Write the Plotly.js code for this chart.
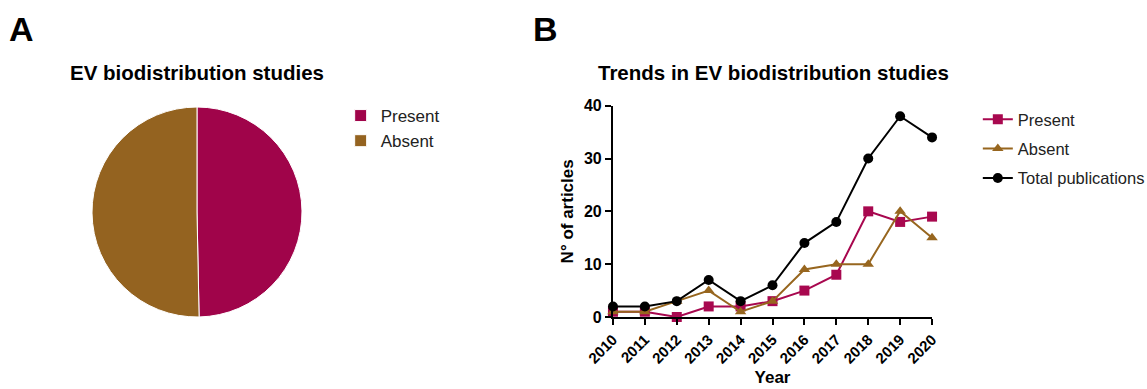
<!DOCTYPE html>
<html><head><meta charset="utf-8">
<script src="https://cdn.plot.ly/plotly-3.0.1.min.js"></script>
<style>html,body{margin:0;padding:0;background:#fff}#c{width:1147px;height:389px}</style>
</head><body><div id="c"></div>
<script>
const pieLabels = ['Present', 'Absent'];
const pieValues = [78, 79];
const years = [2010, 2011, 2012, 2013, 2014, 2015, 2016, 2017, 2018, 2019, 2020];
const present = [1, 1, 0, 2, 2, 3, 5, 8, 20, 18, 19];
const absent = [1, 1, 3, 5, 1, 3, 9, 10, 10, 20, 15];
const total = [2, 2, 3, 7, 3, 6, 14, 18, 30, 38, 34];
const yTicks = [0, 10, 20, 30, 40];

const FONT = 'Liberation Sans, Arial, sans-serif';
const cPresent = '#A8084F', cAbsent = '#97661F', cTotal = '#000000';

const traces = [
  {type: 'pie', labels: pieLabels, values: pieValues, sort: false, direction: 'clockwise', rotation: 0,
   marker: {colors: ['#A0044A', '#946320'], line: {color: '#ffffff', width: 1}},
   textinfo: 'none', hoverinfo: 'label+value', legend: 'legend',
   domain: {x: [0.0802, 0.2633], y: [0.1851, 0.7249]}},
  {type: 'scatter', mode: 'lines+markers', name: 'Present', x: years, y: present, xaxis: 'x', yaxis: 'y', legendgroup: 'p',
   line: {color: cPresent, width: 2}, marker: {symbol: 'square', size: 10, color: cPresent}, cliponaxis: false, legend: 'legend2'},
  {type: 'scatter', mode: 'lines+markers', name: 'Absent', x: years, y: absent, xaxis: 'x', yaxis: 'y', legendgroup: 'a',
   line: {color: cAbsent, width: 2}, marker: {symbol: 'triangle-up', size: 10, color: cAbsent}, cliponaxis: false, legend: 'legend2'},
  {type: 'scatter', mode: 'lines+markers', name: 'Total publications', x: years, y: total, xaxis: 'x', yaxis: 'y', legendgroup: 't',
   line: {color: cTotal, width: 2}, marker: {symbol: 'circle', size: 10, color: cTotal}, cliponaxis: false, legend: 'legend2'}
];

const layout = {
  width: 1147, height: 389,
  margin: {l: 0, r: 0, t: 0, b: 0, autoexpand: false},
  paper_bgcolor: '#fff', plot_bgcolor: '#fff',
  font: {family: FONT, color: '#000'},
  showlegend: true,
  legend: {x: 0.297, y: 0.748, xanchor: 'left', yanchor: 'top', font: {size: 17, family: FONT, color: '#222'},
    tracegroupgap: 0, itemwidth: 30, bgcolor: 'rgba(0,0,0,0)'},
  legend2: {x: 0.8525, y: 0.738, xanchor: 'left', yanchor: 'top', font: {size: 16.5, family: FONT, color: '#222'},
    itemwidth: 30, bgcolor: 'rgba(0,0,0,0)', traceorder: 'grouped', tracegroupgap: 5},
  xaxis: {domain: [0.5344, 0.8126], range: [2010, 2020], tickvals: years, ticktext: years.map(String),
    tickangle: -45, showgrid: false, zeroline: false, showline: true, linecolor: '#000', linewidth: 2,
    ticks: 'outside', ticklen: 6, tickwidth: 2, tickcolor: '#000',
    tickfont: {size: 15, family: FONT, weight: 'bold', color: '#000'},
    title: {text: 'Year', font: {size: 17, family: FONT, weight: 'bold'}, standoff: 6}, anchor: 'y'},
  yaxis: {domain: [0.1851, 0.7283], range: [0, 40], tickvals: yTicks, showgrid: false, zeroline: false,
    showline: true, linecolor: '#000', linewidth: 2, ticks: 'outside', ticklen: 6, tickwidth: 2, tickcolor: '#000',
    tickfont: {size: 16, family: FONT, weight: 'bold', color: '#000'},
    title: {text: 'N° of articles', font: {size: 17, family: FONT, weight: 'bold'}, standoff: 6}, anchor: 'x'},
  annotations: [
    {text: '<b>A</b>', x: 7/1147, y: 1 - 8/389, xref: 'paper', yref: 'paper', xanchor: 'left', yanchor: 'top', showarrow: false, font: {size: 34, family: FONT}},
    {text: '<b>B</b>', x: 531/1147, y: 1 - 8/389, xref: 'paper', yref: 'paper', xanchor: 'left', yanchor: 'top', showarrow: false, font: {size: 34, family: FONT}},
    {text: '<b>EV biodistribution studies</b>', x: 197/1147, y: 1 - 72/389, xref: 'paper', yref: 'paper', xanchor: 'center', yanchor: 'middle', showarrow: false, font: {size: 20.5, family: FONT}},
    {text: '<b>Trends in EV biodistribution studies</b>', x: 773/1147, y: 1 - 72/389, xref: 'paper', yref: 'paper', xanchor: 'center', yanchor: 'middle', showarrow: false, font: {size: 20.5, family: FONT}}
  ]
};

Plotly.newPlot('c', traces, layout, {displayModeBar: false, staticPlot: true});
</script></body></html>
